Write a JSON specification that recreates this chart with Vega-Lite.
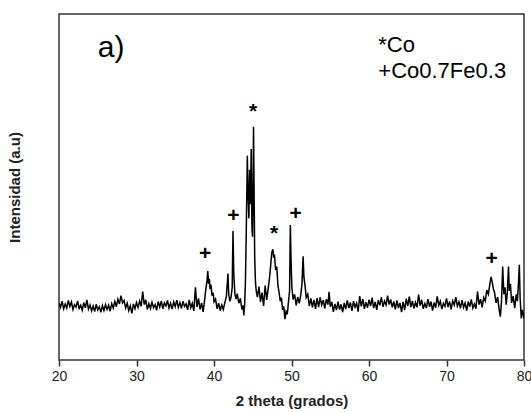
{
 "$schema": "https://vega.github.io/schema/vega-lite/v6.json",
 "width": 465,
 "height": 346,
 "autosize": {"type": "none"},
 "padding": {"left": 59, "top": 14, "right": 7, "bottom": 52},
 "background": "white",
 "config": {"view": {"stroke": "#333", "strokeWidth": 1.5}, "font": "Liberation Sans"},
 "datasets": {
  "xrd": [
   {"x":20.0,"y":16.5},{"x":20.2,"y":15.2},{"x":20.4,"y":17.0},{"x":20.6,"y":14.8},{"x":20.8,"y":16.2},{"x":21.0,"y":15.0},{"x":21.2,"y":17.2},{"x":21.4,"y":15.5},{"x":21.6,"y":16.8},{"x":21.8,"y":14.6},
   {"x":22.0,"y":16.0},{"x":22.2,"y":15.3},{"x":22.4,"y":17.1},{"x":22.6,"y":14.9},{"x":22.8,"y":15.8},{"x":23.0,"y":14.4},{"x":23.2,"y":16.6},{"x":23.4,"y":15.1},{"x":23.6,"y":17.4},{"x":23.8,"y":14.7},
   {"x":24.0,"y":15.9},{"x":24.2,"y":14.2},{"x":24.4,"y":15.6},{"x":24.6,"y":14.0},{"x":24.8,"y":16.1},{"x":25.0,"y":14.5},{"x":25.2,"y":15.4},{"x":25.4,"y":13.8},{"x":25.6,"y":15.7},{"x":25.8,"y":14.3},
   {"x":26.0,"y":16.0},{"x":26.2,"y":14.6},{"x":26.4,"y":15.8},{"x":26.6,"y":14.1},{"x":26.8,"y":16.3},{"x":27.0,"y":15.0},{"x":27.2,"y":16.9},{"x":27.4,"y":15.4},{"x":27.6,"y":17.6},{"x":27.8,"y":16.2},
   {"x":28.0,"y":18.6},{"x":28.2,"y":16.5},{"x":28.4,"y":17.2},{"x":28.6,"y":15.0},{"x":28.8,"y":16.4},{"x":29.0,"y":14.3},{"x":29.2,"y":15.7},{"x":29.4,"y":13.5},{"x":29.6,"y":16.2},{"x":29.8,"y":14.8},
   {"x":30.0,"y":16.6},{"x":30.2,"y":15.2},{"x":30.4,"y":17.0},{"x":30.6,"y":15.5},{"x":30.8,"y":19.8},{"x":31.0,"y":16.0},{"x":31.2,"y":17.4},{"x":31.4,"y":14.6},{"x":31.6,"y":16.3},{"x":31.8,"y":14.9},
   {"x":32.0,"y":16.7},{"x":32.2,"y":15.1},{"x":32.4,"y":16.0},{"x":32.6,"y":14.4},{"x":32.8,"y":16.9},{"x":33.0,"y":15.3},{"x":33.2,"y":17.0},{"x":33.4,"y":14.8},{"x":33.6,"y":16.5},{"x":33.8,"y":15.6},
   {"x":34.0,"y":17.2},{"x":34.2,"y":15.0},{"x":34.4,"y":16.4},{"x":34.6,"y":14.7},{"x":34.8,"y":16.8},{"x":35.0,"y":15.4},{"x":35.2,"y":17.3},{"x":35.4,"y":15.2},{"x":35.6,"y":16.6},{"x":35.8,"y":14.9},
   {"x":36.0,"y":17.0},{"x":36.2,"y":15.5},{"x":36.4,"y":16.2},{"x":36.6,"y":14.5},{"x":36.8,"y":17.4},{"x":37.0,"y":15.1},{"x":37.2,"y":16.4},{"x":37.4,"y":14.2},{"x":37.6,"y":21.0},{"x":37.8,"y":15.3},
   {"x":38.0,"y":17.8},{"x":38.2,"y":14.6},{"x":38.4,"y":16.5},{"x":38.6,"y":13.9},{"x":38.8,"y":17.5},{"x":38.95,"y":20.5},{"x":39.1,"y":23.0},{"x":39.2,"y":25.7},{"x":39.3,"y":22.0},{"x":39.4,"y":23.5},
   {"x":39.5,"y":20.5},{"x":39.6,"y":21.8},{"x":39.75,"y":18.6},{"x":39.9,"y":19.4},{"x":40.0,"y":16.8},{"x":40.2,"y":17.6},{"x":40.4,"y":14.8},{"x":40.6,"y":16.4},{"x":40.8,"y":14.3},{"x":41.0,"y":15.9},
   {"x":41.2,"y":14.6},{"x":41.4,"y":16.6},{"x":41.6,"y":18.4},{"x":41.8,"y":25.0},{"x":41.9,"y":19.0},{"x":42.05,"y":17.0},{"x":42.2,"y":18.2},{"x":42.35,"y":21.0},{"x":42.45,"y":37.3},{"x":42.55,"y":25.0},
   {"x":42.7,"y":19.0},{"x":42.85,"y":17.6},{"x":43.0,"y":19.2},{"x":43.2,"y":16.4},{"x":43.4,"y":17.8},{"x":43.6,"y":14.6},{"x":43.75,"y":15.8},{"x":43.85,"y":12.9},{"x":43.95,"y":16.0},{"x":44.05,"y":22.0},
   {"x":44.15,"y":35.0},{"x":44.3,"y":59.0},{"x":44.4,"y":48.0},{"x":44.5,"y":41.0},{"x":44.6,"y":55.0},{"x":44.7,"y":45.0},{"x":44.8,"y":61.0},{"x":44.9,"y":38.0},{"x":44.97,"y":35.6},{"x":45.05,"y":52.0},
   {"x":45.1,"y":67.4},{"x":45.18,"y":48.0},{"x":45.25,"y":30.0},{"x":45.35,"y":22.5},{"x":45.45,"y":20.0},{"x":45.6,"y":18.2},{"x":45.8,"y":21.2},{"x":46.0,"y":16.8},{"x":46.2,"y":19.5},{"x":46.4,"y":15.6},
   {"x":46.6,"y":21.5},{"x":46.8,"y":17.4},{"x":47.0,"y":20.8},{"x":47.15,"y":23.5},{"x":47.3,"y":27.0},{"x":47.45,"y":31.0},{"x":47.6,"y":32.0},{"x":47.7,"y":29.5},{"x":47.8,"y":30.5},{"x":47.95,"y":26.0},
   {"x":48.1,"y":27.0},{"x":48.25,"y":21.5},{"x":48.4,"y":19.5},{"x":48.55,"y":17.0},{"x":48.7,"y":18.0},{"x":48.85,"y":14.5},{"x":49.0,"y":15.5},{"x":49.15,"y":11.8},{"x":49.3,"y":14.0},{"x":49.45,"y":13.2},
   {"x":49.6,"y":16.5},{"x":49.75,"y":20.0},{"x":49.85,"y":39.0},{"x":49.95,"y":28.0},{"x":50.05,"y":21.0},{"x":50.2,"y":17.5},{"x":50.4,"y":19.0},{"x":50.6,"y":15.8},{"x":50.8,"y":18.2},{"x":51.0,"y":16.4},
   {"x":51.2,"y":18.8},{"x":51.35,"y":22.0},{"x":51.5,"y":30.0},{"x":51.6,"y":24.0},{"x":51.75,"y":21.5},{"x":51.9,"y":18.0},{"x":52.1,"y":19.0},{"x":52.3,"y":15.6},{"x":52.5,"y":17.8},{"x":52.7,"y":15.2},
   {"x":52.9,"y":17.4},{"x":53.1,"y":14.8},{"x":53.3,"y":17.9},{"x":53.5,"y":15.3},{"x":53.7,"y":18.1},{"x":53.9,"y":15.9},{"x":54.1,"y":17.3},{"x":54.3,"y":14.9},{"x":54.5,"y":17.6},{"x":54.7,"y":16.0},
   {"x":54.85,"y":19.7},{"x":55.0,"y":15.4},{"x":55.2,"y":16.8},{"x":55.4,"y":13.9},{"x":55.6,"y":16.2},{"x":55.8,"y":14.4},{"x":56.0,"y":16.9},{"x":56.2,"y":14.6},{"x":56.4,"y":16.1},{"x":56.6,"y":13.8},
   {"x":56.8,"y":16.5},{"x":57.0,"y":14.7},{"x":57.2,"y":17.2},{"x":57.4,"y":15.0},{"x":57.6,"y":16.6},{"x":57.8,"y":14.2},{"x":58.0,"y":17.0},{"x":58.2,"y":15.3},{"x":58.4,"y":16.4},{"x":58.6,"y":14.0},
   {"x":58.8,"y":18.5},{"x":59.0,"y":15.5},{"x":59.2,"y":17.6},{"x":59.4,"y":14.8},{"x":59.6,"y":16.7},{"x":59.8,"y":15.1},{"x":60.0,"y":17.4},{"x":60.2,"y":15.6},{"x":60.4,"y":18.0},{"x":60.6,"y":15.0},
   {"x":60.8,"y":16.8},{"x":61.0,"y":14.5},{"x":61.2,"y":17.3},{"x":61.4,"y":15.8},{"x":61.6,"y":18.2},{"x":61.8,"y":15.4},{"x":62.0,"y":17.0},{"x":62.2,"y":15.9},{"x":62.4,"y":18.6},{"x":62.6,"y":16.0},
   {"x":62.8,"y":17.5},{"x":63.0,"y":15.2},{"x":63.2,"y":16.9},{"x":63.4,"y":14.6},{"x":63.6,"y":17.2},{"x":63.8,"y":15.0},{"x":64.0,"y":16.5},{"x":64.2,"y":13.8},{"x":64.4,"y":16.8},{"x":64.6,"y":14.4},
   {"x":64.8,"y":17.7},{"x":65.0,"y":15.6},{"x":65.2,"y":18.3},{"x":65.4,"y":15.3},{"x":65.6,"y":17.1},{"x":65.8,"y":14.9},{"x":66.0,"y":16.7},{"x":66.2,"y":15.2},{"x":66.4,"y":18.9},{"x":66.6,"y":15.7},
   {"x":66.8,"y":17.4},{"x":67.0,"y":14.8},{"x":67.2,"y":16.3},{"x":67.4,"y":15.0},{"x":67.6,"y":17.6},{"x":67.8,"y":15.4},{"x":68.0,"y":16.9},{"x":68.2,"y":14.3},{"x":68.4,"y":16.6},{"x":68.6,"y":15.1},
   {"x":68.8,"y":18.4},{"x":69.0,"y":15.8},{"x":69.2,"y":17.0},{"x":69.4,"y":14.7},{"x":69.6,"y":16.4},{"x":69.8,"y":15.5},{"x":70.0,"y":17.8},{"x":70.2,"y":15.3},{"x":70.4,"y":16.9},{"x":70.6,"y":14.6},
   {"x":70.8,"y":17.1},{"x":71.0,"y":15.9},{"x":71.2,"y":18.2},{"x":71.4,"y":15.6},{"x":71.6,"y":16.8},{"x":71.8,"y":14.9},{"x":72.0,"y":17.3},{"x":72.2,"y":15.2},{"x":72.4,"y":16.5},{"x":72.6,"y":14.3},
   {"x":72.8,"y":16.9},{"x":73.0,"y":15.4},{"x":73.2,"y":17.5},{"x":73.4,"y":15.0},{"x":73.6,"y":16.2},{"x":73.8,"y":14.8},{"x":74.0,"y":19.8},{"x":74.2,"y":16.0},{"x":74.4,"y":17.6},{"x":74.6,"y":15.2},
   {"x":74.8,"y":18.0},{"x":75.0,"y":17.0},{"x":75.2,"y":20.2},{"x":75.4,"y":19.0},{"x":75.6,"y":22.0},{"x":75.75,"y":24.0},{"x":75.9,"y":22.5},{"x":76.05,"y":20.5},{"x":76.2,"y":19.5},{"x":76.4,"y":16.5},
   {"x":76.6,"y":18.2},{"x":76.8,"y":14.5},{"x":76.95,"y":12.5},{"x":77.1,"y":17.0},{"x":77.25,"y":27.0},{"x":77.4,"y":19.0},{"x":77.55,"y":21.0},{"x":77.7,"y":16.0},{"x":77.85,"y":19.5},{"x":78.0,"y":27.0},
   {"x":78.1,"y":20.0},{"x":78.25,"y":22.0},{"x":78.4,"y":16.5},{"x":78.6,"y":18.5},{"x":78.8,"y":15.0},{"x":79.0,"y":19.0},{"x":79.15,"y":17.0},{"x":79.3,"y":23.0},{"x":79.4,"y":27.5},{"x":79.5,"y":18.0},
   {"x":79.65,"y":12.0},{"x":79.8,"y":14.5},{"x":80.0,"y":12.0}
  ],
  "marks": [
   {"x":38.84,"y":28.9,"t":"+"},
   {"x":42.49,"y":39.8,"t":"+"},
   {"x":50.54,"y":40.5,"t":"+"},
   {"x":75.83,"y":27.5,"t":"+"},
   {"x":45.03,"y":69.9,"t":"*"},
   {"x":47.74,"y":34.7,"t":"*"}
  ],
  "panel": [
   {"x":25.0,"y":87.6,"t":"a)"}
  ],
  "legend": [
   {"x":61.2,"y":89.0,"t":"*Co"},
   {"x":61.2,"y":81.5,"t":"+Co0.7Fe0.3"}
  ]
 },
 "layer": [
  {
   "data": {"name": "xrd"},
   "mark": {"type": "line", "color": "#000", "strokeWidth": 1.5, "clip": true},
   "encoding": {
    "x": {"field": "x", "type": "quantitative",
     "scale": {"domain": [20, 80], "nice": false, "zero": false},
     "axis": {
      "values": [20,25,30,35,40,45,50,55,60,65,70,75,80],
      "labelExpr": "datum.value % 10 === 0 ? datum.label : ''",
      "labelFlush": false, "labelOverlap": false,
      "domain": false, "grid": false,
      "tickColor": "#333", "tickWidth": 1.5,
      "tickSize": {"condition": {"test": "datum.value % 10 === 0", "value": 6}, "value": 3},
      "labelFont": "Liberation Sans", "labelFontSize": 14, "labelColor": "#222", "labelPadding": 3,
      "title": "2 theta (grados)", "titleFont": "Liberation Sans", "titleFontSize": 15, "titleFontWeight": "bold", "titleColor": "#222", "titlePadding": 10
     }},
    "y": {"field": "y", "type": "quantitative",
     "scale": {"domain": [0, 100], "nice": false},
     "axis": {
      "domain": false, "ticks": false, "labels": false, "grid": false,
      "title": "Intensidad (a.u)", "titleFont": "Liberation Sans", "titleFontSize": 15, "titleFontWeight": "bold", "titleColor": "#222", "titlePadding": 37
     }}
   }
  },
  {
   "data": {"name": "marks"},
   "mark": {"type": "text", "fontSize": 21, "fontWeight": "bold", "font": "Liberation Sans", "color": "#000", "align": "center", "baseline": "alphabetic"},
   "encoding": {
    "x": {"field": "x", "type": "quantitative"},
    "y": {"field": "y", "type": "quantitative"},
    "text": {"field": "t"}
   }
  },
  {
   "data": {"name": "panel"},
   "mark": {"type": "text", "fontSize": 30, "font": "Liberation Sans", "color": "#000", "align": "left", "baseline": "alphabetic"},
   "encoding": {
    "x": {"field": "x", "type": "quantitative"},
    "y": {"field": "y", "type": "quantitative"},
    "text": {"field": "t"}
   }
  },
  {
   "data": {"name": "legend"},
   "mark": {"type": "text", "fontSize": 22, "font": "Liberation Sans", "color": "#000", "align": "left", "baseline": "alphabetic"},
   "encoding": {
    "x": {"field": "x", "type": "quantitative"},
    "y": {"field": "y", "type": "quantitative"},
    "text": {"field": "t"}
   }
  }
 ]
}
